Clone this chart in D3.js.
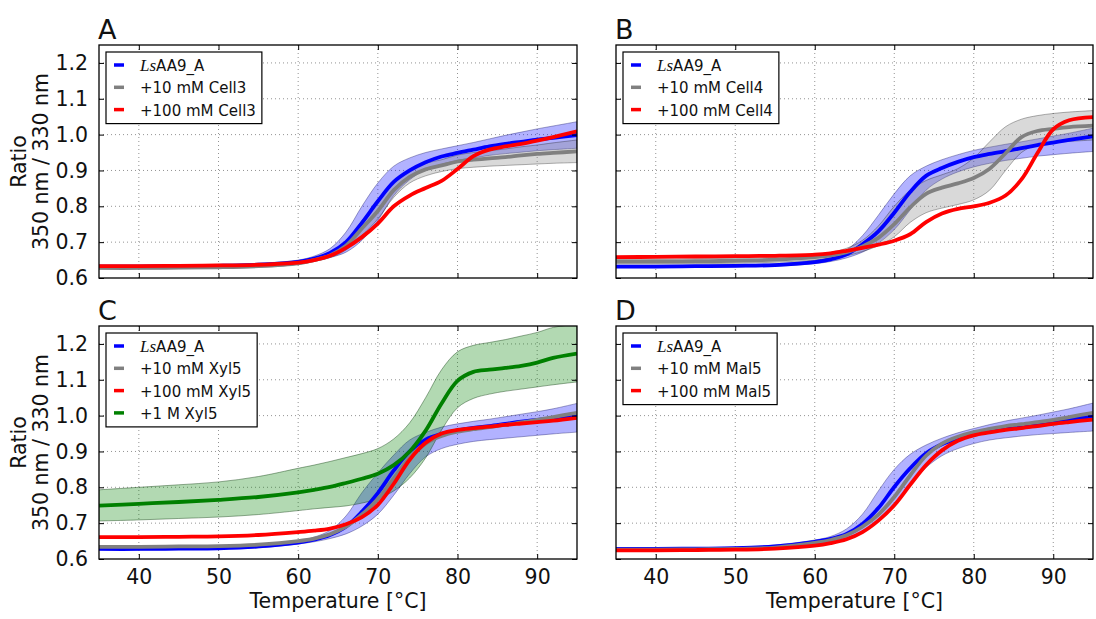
<!DOCTYPE html>
<html><head><meta charset="utf-8">
<script src="https://cdn.jsdelivr.net/npm/d3@7"></script>
<style>body{margin:0;background:#fff} text{font-family:"DejaVu Sans",sans-serif}</style>
</head><body><svg id="c" width="1096" height="619"></svg>
<script>
// ---------------- DATA ----------------
const temps = [35,40,45,50,55,60,62,64,66,68,70,72,74,76,78,80,82,84,86,88,90,92,95];
const xTicks = [40,50,60,70,80,90];
const yTicks = [0.6,0.7,0.8,0.9,1.0,1.1,1.2];
const panelNames = ["A","B","C","D"];
const legendA = ["AA9_A","+10 mM Cell3","+100 mM Cell3"];
const legendB = ["AA9_A","+10 mM Cell4","+100 mM Cell4"];
const legendC = ["AA9_A","+10 mM Xyl5","+100 mM Xyl5","+1 M Xyl5"];
const legendD = ["AA9_A","+10 mM Mal5","+100 mM Mal5"];

// Panel A
const blueA  = [0.632,0.632,0.633,0.634,0.637,0.645,0.654,0.670,0.700,0.754,0.814,0.868,0.900,0.923,0.939,0.949,0.958,0.967,0.974,0.980,0.986,0.991,0.999];
const blueALo= [0.628,0.628,0.629,0.630,0.633,0.641,0.648,0.657,0.672,0.705,0.760,0.830,0.874,0.902,0.917,0.928,0.935,0.942,0.947,0.951,0.955,0.958,0.962];
const blueAHi= [0.636,0.636,0.637,0.638,0.641,0.650,0.661,0.682,0.728,0.800,0.865,0.912,0.935,0.950,0.960,0.969,0.978,0.988,0.998,1.007,1.016,1.024,1.036];
const grayA  = [0.628,0.628,0.629,0.630,0.633,0.641,0.650,0.663,0.690,0.738,0.787,0.845,0.882,0.903,0.914,0.925,0.930,0.934,0.937,0.942,0.946,0.949,0.953];
const grayALo= [0.625,0.625,0.626,0.627,0.630,0.638,0.646,0.657,0.678,0.718,0.765,0.825,0.865,0.885,0.897,0.905,0.909,0.912,0.914,0.916,0.918,0.920,0.922];
const grayAHi= [0.631,0.631,0.632,0.633,0.636,0.644,0.654,0.670,0.700,0.760,0.810,0.865,0.900,0.920,0.930,0.943,0.950,0.955,0.960,0.966,0.971,0.977,0.985];
const redA   = [0.633,0.633,0.634,0.635,0.637,0.643,0.650,0.662,0.684,0.714,0.752,0.800,0.830,0.851,0.871,0.904,0.940,0.958,0.967,0.974,0.983,0.993,1.009];

// Panel B
const blueB  = [0.632,0.632,0.633,0.634,0.636,0.644,0.652,0.666,0.694,0.730,0.782,0.840,0.885,0.907,0.924,0.937,0.946,0.954,0.962,0.971,0.978,0.985,0.995];
const blueBLo= [0.629,0.629,0.630,0.631,0.633,0.640,0.646,0.656,0.672,0.697,0.735,0.790,0.845,0.876,0.896,0.910,0.920,0.928,0.934,0.940,0.944,0.948,0.953];
const blueBHi= [0.635,0.635,0.636,0.637,0.640,0.649,0.658,0.678,0.718,0.775,0.835,0.885,0.912,0.930,0.944,0.956,0.965,0.973,0.980,0.988,0.996,1.004,1.018];
const grayB  = [0.646,0.646,0.647,0.648,0.651,0.658,0.663,0.672,0.688,0.712,0.750,0.797,0.835,0.852,0.864,0.879,0.905,0.948,0.993,1.010,1.016,1.021,1.025];
const grayBLo= [0.639,0.639,0.640,0.641,0.644,0.650,0.655,0.662,0.674,0.690,0.715,0.755,0.782,0.795,0.805,0.818,0.845,0.900,0.950,0.972,0.978,0.981,0.985];
const grayBHi= [0.653,0.653,0.654,0.655,0.658,0.666,0.672,0.683,0.705,0.745,0.800,0.845,0.872,0.888,0.905,0.935,0.980,1.022,1.043,1.053,1.059,1.063,1.067];
const redB   = [0.658,0.659,0.660,0.661,0.662,0.665,0.669,0.676,0.684,0.693,0.704,0.722,0.756,0.780,0.793,0.800,0.810,0.830,0.875,0.948,1.015,1.040,1.049];

// Panel C
const blueC  = [0.628,0.628,0.629,0.630,0.635,0.646,0.654,0.667,0.690,0.732,0.784,0.847,0.900,0.933,0.949,0.959,0.966,0.971,0.977,0.983,0.988,0.993,1.001];
const blueCLo= [0.625,0.625,0.626,0.627,0.631,0.642,0.648,0.657,0.670,0.692,0.725,0.778,0.838,0.885,0.908,0.920,0.928,0.933,0.937,0.941,0.945,0.949,0.954];
const blueCHi= [0.632,0.632,0.633,0.634,0.639,0.651,0.661,0.680,0.720,0.785,0.840,0.890,0.932,0.953,0.968,0.977,0.984,0.990,0.997,1.004,1.011,1.019,1.034];
const grayC  = [0.634,0.634,0.635,0.636,0.640,0.650,0.657,0.669,0.690,0.724,0.767,0.825,0.882,0.922,0.943,0.955,0.962,0.968,0.974,0.981,0.988,0.996,1.008];
const redC   = [0.661,0.661,0.662,0.663,0.667,0.675,0.679,0.685,0.697,0.717,0.751,0.810,0.877,0.924,0.950,0.960,0.965,0.969,0.974,0.978,0.982,0.986,0.994];
const greenC = [0.749,0.754,0.759,0.765,0.773,0.786,0.793,0.801,0.812,0.824,0.838,0.862,0.900,0.958,1.034,1.097,1.122,1.128,1.133,1.139,1.148,1.161,1.173];
const greenCLo=[0.706,0.709,0.713,0.717,0.724,0.735,0.740,0.744,0.748,0.756,0.768,0.790,0.826,0.882,0.960,1.022,1.048,1.060,1.068,1.074,1.080,1.086,1.094];
const greenCHi=[0.793,0.800,0.807,0.815,0.830,0.853,0.862,0.872,0.883,0.894,0.908,0.935,0.980,1.050,1.128,1.178,1.196,1.204,1.212,1.222,1.232,1.246,1.255];

// Panel D
const blueD  = [0.628,0.628,0.629,0.630,0.635,0.648,0.656,0.670,0.698,0.742,0.801,0.853,0.895,0.920,0.936,0.950,0.959,0.967,0.973,0.978,0.983,0.989,0.998];
const blueDLo= [0.625,0.625,0.626,0.627,0.631,0.644,0.649,0.659,0.676,0.705,0.748,0.805,0.855,0.888,0.908,0.922,0.932,0.938,0.943,0.947,0.950,0.953,0.957];
const blueDHi= [0.631,0.631,0.632,0.633,0.639,0.653,0.663,0.684,0.725,0.790,0.850,0.892,0.918,0.937,0.952,0.964,0.975,0.985,0.993,1.001,1.010,1.019,1.035];
const grayD  = [0.626,0.626,0.627,0.628,0.632,0.645,0.653,0.666,0.690,0.724,0.773,0.833,0.888,0.922,0.941,0.954,0.963,0.971,0.976,0.982,0.988,0.996,1.008];
const redD   = [0.624,0.624,0.625,0.626,0.629,0.637,0.644,0.655,0.675,0.707,0.750,0.807,0.862,0.903,0.930,0.945,0.953,0.960,0.965,0.971,0.977,0.982,0.989];

// ---------------- STYLE / LAYOUT ----------------
const BLUE="#0000ff", GRAY="#808080", RED="#ff0000", GREEN="#008000";
const bandStyle = {
  blue: {fill:"rgba(0,0,255,0.3)", stroke:"rgba(0,0,90,0.35)"},
  gray: {fill:"rgba(128,128,128,0.3)", stroke:"rgba(0,0,0,0.3)"},
  green:{fill:"rgba(0,128,0,0.3)", stroke:"rgba(0,50,0,0.4)"}
};
const boxes = [
  {x:99, y:45, w:478, h:233},
  {x:616,y:45, w:477, h:233},
  {x:99, y:326,w:478, h:233},
  {x:616,y:326,w:477, h:233}
];
const panels = [
  {legend:legendA, bands:[[blueALo,blueAHi,"blue"],[grayALo,grayAHi,"gray"]],
   lines:[[blueA,BLUE],[grayA,GRAY],[redA,RED]]},
  {legend:legendB, bands:[[blueBLo,blueBHi,"blue"],[grayBLo,grayBHi,"gray"]],
   lines:[[blueB,BLUE],[grayB,GRAY],[redB,RED]]},
  {legend:legendC, bands:[[blueCLo,blueCHi,"blue"],[greenCLo,greenCHi,"green"]],
   lines:[[blueC,BLUE],[grayC,GRAY],[redC,RED],[greenC,GREEN]]},
  {legend:legendD, bands:[[blueDLo,blueDHi,"blue"]],
   lines:[[blueD,BLUE],[grayD,GRAY],[redD,RED]]}
];
const legendColors=[BLUE,GRAY,RED,GREEN];
const curve = d3.curveCatmullRom.alpha(0.5);

const svg = d3.select("#c");
svg.append("rect").attr("width",1096).attr("height",619).attr("fill","#fff");
const defs = svg.append("defs");

panels.forEach((p,i)=>{
  const b = boxes[i];
  const x = d3.scaleLinear().domain([35,95]).range([b.x, b.x+b.w]);
  const y = d3.scaleLinear().domain([0.6,1.25]).range([b.y+b.h, b.y]);
  const g = svg.append("g");
  defs.append("clipPath").attr("id","clip"+i).append("rect")
    .attr("x",b.x).attr("y",b.y).attr("width",b.w).attr("height",b.h);

  // grid
  const grid = g.append("g").attr("stroke","#777").attr("stroke-width",0.8).attr("stroke-dasharray","1,3");
  xTicks.forEach(t=>grid.append("line").attr("x1",x(t)).attr("x2",x(t)).attr("y1",b.y).attr("y2",b.y+b.h));
  yTicks.slice(1).forEach(t=>grid.append("line").attr("y1",y(t)).attr("y2",y(t)).attr("x1",b.x).attr("x2",b.x+b.w));

  const plot = g.append("g").attr("clip-path","url(#clip"+i+")");
  // bands
  p.bands.forEach(([lo,hi,k])=>{
    const area = d3.area().x((d,j)=>x(temps[j])).y0((d,j)=>y(lo[j])).y1((d,j)=>y(hi[j])).curve(curve);
    plot.append("path").attr("d",area(temps)).attr("fill",bandStyle[k].fill)
      .attr("stroke",bandStyle[k].stroke).attr("stroke-width",1);
  });
  // lines
  p.lines.forEach(([vals,col])=>{
    const line = d3.line().x((d,j)=>x(temps[j])).y(d=>y(d)).curve(curve);
    plot.append("path").attr("d",line(vals)).attr("fill","none").attr("stroke",col)
      .attr("stroke-width",3.8).attr("stroke-linejoin","round");
  });

  // axes (ticks inward on all four sides)
  const tl = 5;
  const gx = g.append("g").attr("transform",`translate(0,${b.y+b.h})`)
    .call(d3.axisBottom(x).tickValues(xTicks).tickSizeInner(-tl).tickSizeOuter(0).tickPadding(10).tickFormat(d3.format("d")));
  const gxt = g.append("g").attr("transform",`translate(0,${b.y})`)
    .call(d3.axisTop(x).tickValues(xTicks).tickSizeInner(-tl).tickSizeOuter(0).tickFormat(""));
  const gy = g.append("g").attr("transform",`translate(${b.x},0)`)
    .call(d3.axisLeft(y).tickValues(yTicks).tickSizeInner(-tl).tickSizeOuter(0).tickPadding(11).tickFormat(d3.format(".1f")));
  const gyr = g.append("g").attr("transform",`translate(${b.x+b.w},0)`)
    .call(d3.axisRight(y).tickValues(yTicks).tickSizeInner(-tl).tickSizeOuter(0).tickFormat(""));
  [gx,gxt,gy,gyr].forEach(a=>{
    a.select(".domain").remove();
    a.selectAll(".tick line").attr("stroke","#000").attr("stroke-width",1);
    a.selectAll("text").attr("font-size",20.5).attr("font-family","DejaVu Sans").attr("fill","#111");
  });
  if (i<2) gx.selectAll("text").remove();
  if (i%2===1) gy.selectAll("text").remove();
  // frame
  g.append("rect").attr("x",b.x).attr("y",b.y).attr("width",b.w).attr("height",b.h)
    .attr("fill","none").attr("stroke","#000").attr("stroke-width",1.3);

  // panel letter
  g.append("text").attr("x",b.x-1).attr("y",b.y-6).attr("font-size",27).attr("fill","#111").text(panelNames[i]);

  // legend
  const lx = b.x+7, ly = b.y+7;
  const lg = g.append("g");
  const box = lg.append("rect").attr("x",lx).attr("y",ly).attr("fill","#fff").attr("stroke","#000").attr("stroke-width",1.2);
  let maxW = 0;
  p.legend.forEach((lab,k)=>{
    const by = ly + 19 + k*22.3;
    lg.append("line").attr("x1",lx+8).attr("x2",lx+18).attr("y1",by-6).attr("y2",by-6)
      .attr("stroke",legendColors[k]).attr("stroke-width",3.5);
    const t = lg.append("text").attr("x",lx+34).attr("y",by).attr("font-size",15).attr("fill","#111");
    if (k===0) {
      t.append("tspan").attr("font-family","Liberation Serif").attr("font-style","italic").attr("font-size",17).text("Ls");
      t.append("tspan").text(lab);
    } else t.text(lab);
    maxW = Math.max(maxW, t.node().getComputedTextLength());
  });
  box.attr("width",34+maxW+6).attr("height",19+(p.legend.length-1)*22.3+8);
});

// axis labels
[boxes[0],boxes[2]].forEach(b=>{
  const cy = b.y + b.h/2;
  svg.append("text").attr("transform",`translate(25.5,${cy}) rotate(-90)`).attr("text-anchor","middle")
    .attr("font-size",20.5).attr("fill","#111").text("Ratio");
  svg.append("text").attr("transform",`translate(47.5,${cy}) rotate(-90)`).attr("text-anchor","middle")
    .attr("font-size",20.5).attr("fill","#111").text("350 nm / 330 nm");
});
[boxes[2],boxes[3]].forEach(b=>{
  svg.append("text").attr("x",b.x+b.w/2).attr("y",608).attr("text-anchor","middle")
    .attr("font-size",20.5).attr("fill","#111").text("Temperature [°C]");
});
</script></body></html>
